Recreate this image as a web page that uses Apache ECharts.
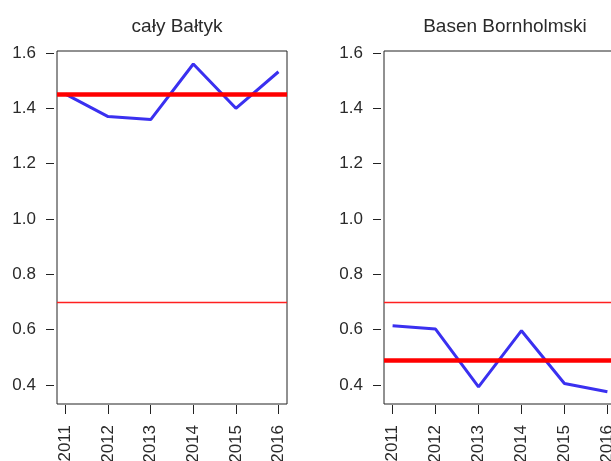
<!DOCTYPE html>
<html>
<head>
<meta charset="utf-8">
<script src="https://cdn.jsdelivr.net/npm/echarts@6/dist/echarts.min.js"></script>
<style>
  html, body { margin: 0; padding: 0; background: #fff; }
  #main { width: 611px; height: 461px; }
</style>
</head>
<body>
<div id="main"></div>
<script>
// dane
const years = [2011, 2012, 2013, 2014, 2015, 2016];
const calyBaltyk = [1.451, 1.370, 1.359, 1.560, 1.400, 1.532];
const basenBornholmski = [0.614, 0.602, 0.393, 0.596, 0.405, 0.375];
const sredniaBaltyk = 1.446;
const sredniaBornholm = 0.487;
const prog = 0.70; // cienka czerwona linia
const yTicks = [0.4, 0.6, 0.8, 1.0, 1.2, 1.4, 1.6];
const titles = ['cały Bałtyk', 'Basen Bornholmski'];

const font = 'Liberation Sans, Arial, sans-serif';
const txt = '#2a2a2a';

const panels = [
  { left: 57, width: 230, values: calyBaltyk, mean: sredniaBaltyk },
  { left: 384, width: 232, values: basenBornholmski, mean: sredniaBornholm },
];

const myChart = echarts.init(document.getElementById('main'));

const option = {
  animation: false,
  backgroundColor: '#fff',
  title: panels.map((p, i) => ({
    text: titles[i],
    left: p.left + p.width / 2,
    top: 12,
    textAlign: 'center',
    textStyle: { fontFamily: font, fontSize: 19, fontWeight: 'normal', color: txt },
  })),
  grid: panels.map(p => ({
    left: p.left,
    width: p.width,
    top: 51,
    height: 353,
    containLabel: false,
    outerBoundsMode: 'none', // v6: nie zmniejszaj siatki pod etykiety
    show: true,
    borderColor: '#222',
    borderWidth: 1,
    backgroundColor: '#fff',
  })),
  xAxis: panels.map((p, i) => ({
    type: 'value',
    gridIndex: i,
    min: 2010.8,
    max: 2016.2,
    offset: 1,
    axisLine: { show: false },
    splitLine: { show: false },
    axisTick: { show: true, length: 9, customValues: years, lineStyle: { color: '#222' } },
    axisLabel: {
      customValues: years,
      rotate: 90,
      margin: 20,
      formatter: v => String(v),
      fontFamily: font,
      fontSize: 17,
      color: txt,
    },
  })),
  yAxis: panels.map((p, i) => ({
    type: 'value',
    gridIndex: i,
    min: 0.331,
    max: 1.607,
    offset: 3,
    axisLine: { show: false },
    splitLine: { show: false },
    axisTick: { show: true, length: 8, customValues: yTicks, lineStyle: { color: '#222' } },
    axisLabel: {
      customValues: yTicks,
      margin: 18,
      formatter: v => v.toFixed(1),
      fontFamily: font,
      fontSize: 17,
      color: txt,
    },
  })),
  series: panels.map((p, i) => ({
    type: 'line',
    xAxisIndex: i,
    yAxisIndex: i,
    data: years.map((y, j) => [y, p.values[j]]),
    showSymbol: false,
    lineStyle: { color: '#3a30f0', width: 3 },
    z: 3,
    markLine: {
      silent: true,
      symbol: 'none',
      label: { show: false },
      data: [
        { yAxis: prog, lineStyle: { color: '#ff2020', width: 1.3, type: 'solid' } },
        { yAxis: p.mean, lineStyle: { color: '#ff0000', width: 4.5, type: 'solid' } },
      ],
    },
  })),
};

myChart.setOption(option);
</script>
</body>
</html>
